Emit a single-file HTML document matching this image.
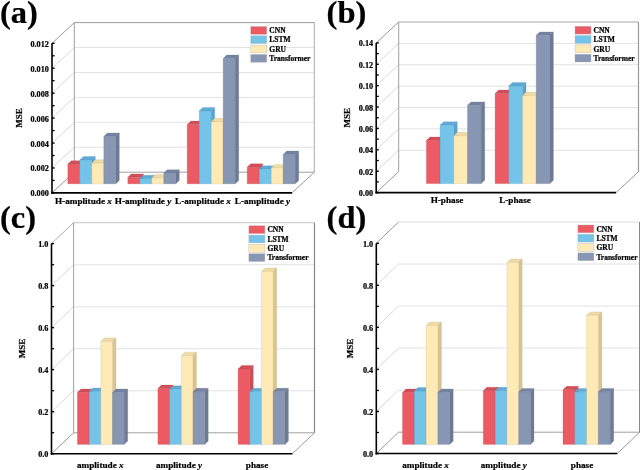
<!DOCTYPE html>
<html><head><meta charset="utf-8"><style>
html,body{margin:0;padding:0;background:#fff;}
svg{display:block;will-change:transform;}
</style></head><body>
<svg width="640" height="470" viewBox="0 0 640 470" font-family='"Liberation Serif", serif' fill="#000">
<style>text{stroke:#000;stroke-width:0.22px;}</style>
<rect width="640" height="470" fill="#fff"/>
<line x1="52.00" y1="167.97" x2="74.30" y2="147.27" stroke="#d4d4d4" stroke-width="0.9"/>
<line x1="74.30" y1="147.27" x2="314.30" y2="147.27" stroke="#e2e2e2" stroke-width="1"/>
<line x1="52.00" y1="143.03" x2="74.30" y2="122.33" stroke="#d4d4d4" stroke-width="0.9"/>
<line x1="74.30" y1="122.33" x2="314.30" y2="122.33" stroke="#e2e2e2" stroke-width="1"/>
<line x1="52.00" y1="118.10" x2="74.30" y2="97.40" stroke="#d4d4d4" stroke-width="0.9"/>
<line x1="74.30" y1="97.40" x2="314.30" y2="97.40" stroke="#e2e2e2" stroke-width="1"/>
<line x1="52.00" y1="93.17" x2="74.30" y2="72.47" stroke="#d4d4d4" stroke-width="0.9"/>
<line x1="74.30" y1="72.47" x2="314.30" y2="72.47" stroke="#e2e2e2" stroke-width="1"/>
<line x1="52.00" y1="68.23" x2="74.30" y2="47.53" stroke="#d4d4d4" stroke-width="0.9"/>
<line x1="74.30" y1="47.53" x2="314.30" y2="47.53" stroke="#e2e2e2" stroke-width="1"/>
<line x1="52.00" y1="43.30" x2="74.30" y2="22.60" stroke="#8c8c8c" stroke-width="0.9"/>
<line x1="74.30" y1="22.60" x2="314.30" y2="22.60" stroke="#9a9a9a" stroke-width="1"/>
<line x1="314.30" y1="22.60" x2="314.30" y2="172.20" stroke="#b8b8b8" stroke-width="1.2"/>
<line x1="74.30" y1="22.60" x2="74.30" y2="172.20" stroke="#a0a0a0" stroke-width="1"/>
<line x1="74.30" y1="172.20" x2="314.30" y2="172.20" stroke="#a0a0a0" stroke-width="1"/>
<line x1="52.00" y1="192.90" x2="74.30" y2="172.20" stroke="#808080" stroke-width="0.8"/>
<line x1="292.00" y1="192.90" x2="314.30" y2="172.20" stroke="#808080" stroke-width="0.8"/>
<polygon points="67.80,164.10 71.30,160.70 83.30,160.70 79.80,164.10" fill="#D04F58" stroke="#b04048" stroke-width="0.4" stroke-opacity="0.55" stroke-linejoin="round"/>
<polygon points="79.80,164.10 83.30,160.70 83.30,180.40 79.80,183.80" fill="#C8525A" stroke="#b04048" stroke-width="0.4" stroke-opacity="0.55" stroke-linejoin="round"/>
<rect x="67.80" y="164.10" width="12.00" height="19.70" fill="#EC5B64" stroke="#b04048" stroke-width="0.4" stroke-opacity="0.55" stroke-linejoin="round"/>
<polygon points="79.80,159.90 83.30,156.50 95.30,156.50 91.80,159.90" fill="#5FABD6" stroke="#4a8fb8" stroke-width="0.4" stroke-opacity="0.55" stroke-linejoin="round"/>
<polygon points="91.80,159.90 95.30,156.50 95.30,180.40 91.80,183.80" fill="#5BA3CC" stroke="#4a8fb8" stroke-width="0.4" stroke-opacity="0.55" stroke-linejoin="round"/>
<rect x="79.80" y="159.90" width="12.00" height="23.90" fill="#74C3E9" stroke="#4a8fb8" stroke-width="0.4" stroke-opacity="0.55" stroke-linejoin="round"/>
<polygon points="91.80,163.10 95.30,159.70 107.30,159.70 103.80,163.10" fill="#EFDBA4" stroke="#b9a878" stroke-width="0.4" stroke-opacity="0.55" stroke-linejoin="round"/>
<polygon points="103.80,163.10 107.30,159.70 107.30,180.40 103.80,183.80" fill="#D8C592" stroke="#b9a878" stroke-width="0.4" stroke-opacity="0.55" stroke-linejoin="round"/>
<rect x="91.80" y="163.10" width="12.00" height="20.70" fill="#FFE9B4" stroke="#b9a878" stroke-width="0.4" stroke-opacity="0.55" stroke-linejoin="round"/>
<polygon points="103.80,136.40 107.30,133.00 119.30,133.00 115.80,136.40" fill="#7582A1" stroke="#5f6a82" stroke-width="0.4" stroke-opacity="0.55" stroke-linejoin="round"/>
<polygon points="115.80,136.40 119.30,133.00 119.30,180.40 115.80,183.80" fill="#6E7B94" stroke="#5f6a82" stroke-width="0.4" stroke-opacity="0.55" stroke-linejoin="round"/>
<rect x="103.80" y="136.40" width="12.00" height="47.40" fill="#8796B2" stroke="#5f6a82" stroke-width="0.4" stroke-opacity="0.55" stroke-linejoin="round"/>
<polygon points="127.80,177.30 131.30,173.90 143.30,173.90 139.80,177.30" fill="#D04F58" stroke="#b04048" stroke-width="0.4" stroke-opacity="0.55" stroke-linejoin="round"/>
<polygon points="139.80,177.30 143.30,173.90 143.30,180.40 139.80,183.80" fill="#C8525A" stroke="#b04048" stroke-width="0.4" stroke-opacity="0.55" stroke-linejoin="round"/>
<rect x="127.80" y="177.30" width="12.00" height="6.50" fill="#EC5B64" stroke="#b04048" stroke-width="0.4" stroke-opacity="0.55" stroke-linejoin="round"/>
<polygon points="139.80,178.70 143.30,175.30 155.30,175.30 151.80,178.70" fill="#5FABD6" stroke="#4a8fb8" stroke-width="0.4" stroke-opacity="0.55" stroke-linejoin="round"/>
<polygon points="151.80,178.70 155.30,175.30 155.30,180.40 151.80,183.80" fill="#5BA3CC" stroke="#4a8fb8" stroke-width="0.4" stroke-opacity="0.55" stroke-linejoin="round"/>
<rect x="139.80" y="178.70" width="12.00" height="5.10" fill="#74C3E9" stroke="#4a8fb8" stroke-width="0.4" stroke-opacity="0.55" stroke-linejoin="round"/>
<polygon points="151.80,177.80 155.30,174.40 167.30,174.40 163.80,177.80" fill="#EFDBA4" stroke="#b9a878" stroke-width="0.4" stroke-opacity="0.55" stroke-linejoin="round"/>
<polygon points="163.80,177.80 167.30,174.40 167.30,180.40 163.80,183.80" fill="#D8C592" stroke="#b9a878" stroke-width="0.4" stroke-opacity="0.55" stroke-linejoin="round"/>
<rect x="151.80" y="177.80" width="12.00" height="6.00" fill="#FFE9B4" stroke="#b9a878" stroke-width="0.4" stroke-opacity="0.55" stroke-linejoin="round"/>
<polygon points="163.80,173.10 167.30,169.70 179.30,169.70 175.80,173.10" fill="#7582A1" stroke="#5f6a82" stroke-width="0.4" stroke-opacity="0.55" stroke-linejoin="round"/>
<polygon points="175.80,173.10 179.30,169.70 179.30,180.40 175.80,183.80" fill="#6E7B94" stroke="#5f6a82" stroke-width="0.4" stroke-opacity="0.55" stroke-linejoin="round"/>
<rect x="163.80" y="173.10" width="12.00" height="10.70" fill="#8796B2" stroke="#5f6a82" stroke-width="0.4" stroke-opacity="0.55" stroke-linejoin="round"/>
<polygon points="187.20,124.50 190.70,121.10 202.70,121.10 199.20,124.50" fill="#D04F58" stroke="#b04048" stroke-width="0.4" stroke-opacity="0.55" stroke-linejoin="round"/>
<polygon points="199.20,124.50 202.70,121.10 202.70,180.40 199.20,183.80" fill="#C8525A" stroke="#b04048" stroke-width="0.4" stroke-opacity="0.55" stroke-linejoin="round"/>
<rect x="187.20" y="124.50" width="12.00" height="59.30" fill="#EC5B64" stroke="#b04048" stroke-width="0.4" stroke-opacity="0.55" stroke-linejoin="round"/>
<polygon points="199.20,110.90 202.70,107.50 214.70,107.50 211.20,110.90" fill="#5FABD6" stroke="#4a8fb8" stroke-width="0.4" stroke-opacity="0.55" stroke-linejoin="round"/>
<polygon points="211.20,110.90 214.70,107.50 214.70,180.40 211.20,183.80" fill="#5BA3CC" stroke="#4a8fb8" stroke-width="0.4" stroke-opacity="0.55" stroke-linejoin="round"/>
<rect x="199.20" y="110.90" width="12.00" height="72.90" fill="#74C3E9" stroke="#4a8fb8" stroke-width="0.4" stroke-opacity="0.55" stroke-linejoin="round"/>
<polygon points="211.20,121.70 214.70,118.30 226.70,118.30 223.20,121.70" fill="#EFDBA4" stroke="#b9a878" stroke-width="0.4" stroke-opacity="0.55" stroke-linejoin="round"/>
<polygon points="223.20,121.70 226.70,118.30 226.70,180.40 223.20,183.80" fill="#D8C592" stroke="#b9a878" stroke-width="0.4" stroke-opacity="0.55" stroke-linejoin="round"/>
<rect x="211.20" y="121.70" width="12.00" height="62.10" fill="#FFE9B4" stroke="#b9a878" stroke-width="0.4" stroke-opacity="0.55" stroke-linejoin="round"/>
<polygon points="223.20,58.50 226.70,55.10 238.70,55.10 235.20,58.50" fill="#7582A1" stroke="#5f6a82" stroke-width="0.4" stroke-opacity="0.55" stroke-linejoin="round"/>
<polygon points="235.20,58.50 238.70,55.10 238.70,180.40 235.20,183.80" fill="#6E7B94" stroke="#5f6a82" stroke-width="0.4" stroke-opacity="0.55" stroke-linejoin="round"/>
<rect x="223.20" y="58.50" width="12.00" height="125.30" fill="#8796B2" stroke="#5f6a82" stroke-width="0.4" stroke-opacity="0.55" stroke-linejoin="round"/>
<polygon points="247.20,167.20 250.70,163.80 262.70,163.80 259.20,167.20" fill="#D04F58" stroke="#b04048" stroke-width="0.4" stroke-opacity="0.55" stroke-linejoin="round"/>
<polygon points="259.20,167.20 262.70,163.80 262.70,180.40 259.20,183.80" fill="#C8525A" stroke="#b04048" stroke-width="0.4" stroke-opacity="0.55" stroke-linejoin="round"/>
<rect x="247.20" y="167.20" width="12.00" height="16.60" fill="#EC5B64" stroke="#b04048" stroke-width="0.4" stroke-opacity="0.55" stroke-linejoin="round"/>
<polygon points="259.20,169.10 262.70,165.70 274.70,165.70 271.20,169.10" fill="#5FABD6" stroke="#4a8fb8" stroke-width="0.4" stroke-opacity="0.55" stroke-linejoin="round"/>
<polygon points="271.20,169.10 274.70,165.70 274.70,180.40 271.20,183.80" fill="#5BA3CC" stroke="#4a8fb8" stroke-width="0.4" stroke-opacity="0.55" stroke-linejoin="round"/>
<rect x="259.20" y="169.10" width="12.00" height="14.70" fill="#74C3E9" stroke="#4a8fb8" stroke-width="0.4" stroke-opacity="0.55" stroke-linejoin="round"/>
<polygon points="271.20,167.80 274.70,164.40 286.70,164.40 283.20,167.80" fill="#EFDBA4" stroke="#b9a878" stroke-width="0.4" stroke-opacity="0.55" stroke-linejoin="round"/>
<polygon points="283.20,167.80 286.70,164.40 286.70,180.40 283.20,183.80" fill="#D8C592" stroke="#b9a878" stroke-width="0.4" stroke-opacity="0.55" stroke-linejoin="round"/>
<rect x="271.20" y="167.80" width="12.00" height="16.00" fill="#FFE9B4" stroke="#b9a878" stroke-width="0.4" stroke-opacity="0.55" stroke-linejoin="round"/>
<polygon points="283.20,154.40 286.70,151.00 298.70,151.00 295.20,154.40" fill="#7582A1" stroke="#5f6a82" stroke-width="0.4" stroke-opacity="0.55" stroke-linejoin="round"/>
<polygon points="295.20,154.40 298.70,151.00 298.70,180.40 295.20,183.80" fill="#6E7B94" stroke="#5f6a82" stroke-width="0.4" stroke-opacity="0.55" stroke-linejoin="round"/>
<rect x="283.20" y="154.40" width="12.00" height="29.40" fill="#8796B2" stroke="#5f6a82" stroke-width="0.4" stroke-opacity="0.55" stroke-linejoin="round"/>
<line x1="52.00" y1="43.30" x2="52.00" y2="193.90" stroke="#000" stroke-width="1.6"/>
<line x1="51.20" y1="192.90" x2="292.00" y2="192.90" stroke="#000" stroke-width="1.6"/>
<line x1="52.00" y1="192.90" x2="54.60" y2="192.90" stroke="#000" stroke-width="1.4"/>
<line x1="52.00" y1="180.43" x2="54.60" y2="180.43" stroke="#000" stroke-width="1.3"/>
<text x="48.90" y="196.40" text-anchor="end" font-size="8.2" font-weight="bold">0.000</text>
<line x1="52.00" y1="167.97" x2="54.60" y2="167.97" stroke="#000" stroke-width="1.4"/>
<line x1="52.00" y1="155.50" x2="54.60" y2="155.50" stroke="#000" stroke-width="1.3"/>
<text x="48.90" y="171.47" text-anchor="end" font-size="8.2" font-weight="bold">0.002</text>
<line x1="52.00" y1="143.03" x2="54.60" y2="143.03" stroke="#000" stroke-width="1.4"/>
<line x1="52.00" y1="130.57" x2="54.60" y2="130.57" stroke="#000" stroke-width="1.3"/>
<text x="48.90" y="146.53" text-anchor="end" font-size="8.2" font-weight="bold">0.004</text>
<line x1="52.00" y1="118.10" x2="54.60" y2="118.10" stroke="#000" stroke-width="1.4"/>
<line x1="52.00" y1="105.63" x2="54.60" y2="105.63" stroke="#000" stroke-width="1.3"/>
<text x="48.90" y="121.60" text-anchor="end" font-size="8.2" font-weight="bold">0.006</text>
<line x1="52.00" y1="93.17" x2="54.60" y2="93.17" stroke="#000" stroke-width="1.4"/>
<line x1="52.00" y1="80.70" x2="54.60" y2="80.70" stroke="#000" stroke-width="1.3"/>
<text x="48.90" y="96.67" text-anchor="end" font-size="8.2" font-weight="bold">0.008</text>
<line x1="52.00" y1="68.23" x2="54.60" y2="68.23" stroke="#000" stroke-width="1.4"/>
<line x1="52.00" y1="55.77" x2="54.60" y2="55.77" stroke="#000" stroke-width="1.3"/>
<text x="48.90" y="71.73" text-anchor="end" font-size="8.2" font-weight="bold">0.010</text>
<line x1="52.00" y1="43.30" x2="54.60" y2="43.30" stroke="#000" stroke-width="1.4"/>
<text x="48.90" y="46.80" text-anchor="end" font-size="8.2" font-weight="bold">0.012</text>
<text x="0" y="0" transform="translate(21.50,118.00) rotate(-90)" text-anchor="middle" font-size="9" font-weight="bold">MSE</text>
<text x="83.40" y="203.60" text-anchor="middle" font-size="9.2" font-weight="bold">H-amplitude <tspan font-style="italic">x</tspan></text>
<text x="143.00" y="203.60" text-anchor="middle" font-size="9.2" font-weight="bold">H-amplitude <tspan font-style="italic">y</tspan></text>
<text x="203.00" y="203.60" text-anchor="middle" font-size="9.2" font-weight="bold">L-amplitude <tspan font-style="italic">x</tspan></text>
<text x="262.50" y="203.60" text-anchor="middle" font-size="9.2" font-weight="bold">L-amplitude <tspan font-style="italic">y</tspan></text>
<rect x="250.30" y="25.70" width="35.00" height="9.3" fill="#fff"/>
<rect x="250.80" y="26.50" width="16" height="7.8" fill="#EC5B64" stroke="#b4b4b4" stroke-width="0.4"/>
<text x="269.30" y="33.10" font-size="7.5" font-weight="bold">CNN</text>
<rect x="250.30" y="35.00" width="38.00" height="9.3" fill="#fff"/>
<rect x="250.80" y="35.80" width="16" height="7.8" fill="#74C3E9" stroke="#b4b4b4" stroke-width="0.4"/>
<text x="269.30" y="42.40" font-size="7.5" font-weight="bold">LSTM</text>
<rect x="250.30" y="44.30" width="35.50" height="9.3" fill="#fff"/>
<rect x="250.80" y="45.10" width="16" height="7.8" fill="#FFE9B4" stroke="#b4b4b4" stroke-width="0.4"/>
<text x="269.30" y="51.70" font-size="7.5" font-weight="bold">GRU</text>
<rect x="250.30" y="53.60" width="59.50" height="9.3" fill="#fff"/>
<rect x="250.80" y="54.40" width="16" height="7.8" fill="#8796B2" stroke="#b4b4b4" stroke-width="0.4"/>
<text x="269.30" y="61.00" font-size="7.5" font-weight="bold">Transformer</text>
<text x="0.00" y="22.60" font-size="32.5" font-weight="bold">(a)</text>
<line x1="376.20" y1="171.21" x2="398.70" y2="150.31" stroke="#d4d4d4" stroke-width="0.9"/>
<line x1="398.70" y1="150.31" x2="638.50" y2="150.31" stroke="#e2e2e2" stroke-width="1"/>
<line x1="376.20" y1="149.83" x2="398.70" y2="128.93" stroke="#d4d4d4" stroke-width="0.9"/>
<line x1="398.70" y1="128.93" x2="638.50" y2="128.93" stroke="#e2e2e2" stroke-width="1"/>
<line x1="376.20" y1="128.44" x2="398.70" y2="107.54" stroke="#d4d4d4" stroke-width="0.9"/>
<line x1="398.70" y1="107.54" x2="638.50" y2="107.54" stroke="#e2e2e2" stroke-width="1"/>
<line x1="376.20" y1="107.06" x2="398.70" y2="86.16" stroke="#d4d4d4" stroke-width="0.9"/>
<line x1="398.70" y1="86.16" x2="638.50" y2="86.16" stroke="#e2e2e2" stroke-width="1"/>
<line x1="376.20" y1="85.67" x2="398.70" y2="64.77" stroke="#d4d4d4" stroke-width="0.9"/>
<line x1="398.70" y1="64.77" x2="638.50" y2="64.77" stroke="#e2e2e2" stroke-width="1"/>
<line x1="376.20" y1="64.29" x2="398.70" y2="43.39" stroke="#d4d4d4" stroke-width="0.9"/>
<line x1="398.70" y1="43.39" x2="638.50" y2="43.39" stroke="#e2e2e2" stroke-width="1"/>
<line x1="376.20" y1="42.90" x2="398.70" y2="22.00" stroke="#8c8c8c" stroke-width="0.9"/>
<line x1="398.70" y1="22.00" x2="638.50" y2="22.00" stroke="#a8a8a8" stroke-width="1"/>
<line x1="638.50" y1="22.00" x2="638.50" y2="171.70" stroke="#999" stroke-width="1.2"/>
<line x1="398.70" y1="22.00" x2="398.70" y2="171.70" stroke="#a0a0a0" stroke-width="1"/>
<line x1="376.20" y1="192.60" x2="398.70" y2="171.70" stroke="#808080" stroke-width="0.8"/>
<line x1="616.00" y1="192.60" x2="638.50" y2="171.70" stroke="#808080" stroke-width="0.8"/>
<polygon points="426.40,140.40 429.90,137.00 443.60,137.00 440.10,140.40" fill="#D04F58" stroke="#b04048" stroke-width="0.4" stroke-opacity="0.55" stroke-linejoin="round"/>
<polygon points="440.10,140.40 443.60,137.00 443.60,180.20 440.10,183.60" fill="#C8525A" stroke="#b04048" stroke-width="0.4" stroke-opacity="0.55" stroke-linejoin="round"/>
<rect x="426.40" y="140.40" width="13.70" height="43.20" fill="#EC5B64" stroke="#b04048" stroke-width="0.4" stroke-opacity="0.55" stroke-linejoin="round"/>
<polygon points="440.10,125.10 443.60,121.70 457.30,121.70 453.80,125.10" fill="#5FABD6" stroke="#4a8fb8" stroke-width="0.4" stroke-opacity="0.55" stroke-linejoin="round"/>
<polygon points="453.80,125.10 457.30,121.70 457.30,180.20 453.80,183.60" fill="#5BA3CC" stroke="#4a8fb8" stroke-width="0.4" stroke-opacity="0.55" stroke-linejoin="round"/>
<rect x="440.10" y="125.10" width="13.70" height="58.50" fill="#74C3E9" stroke="#4a8fb8" stroke-width="0.4" stroke-opacity="0.55" stroke-linejoin="round"/>
<polygon points="453.80,135.70 457.30,132.30 471.00,132.30 467.50,135.70" fill="#EFDBA4" stroke="#b9a878" stroke-width="0.4" stroke-opacity="0.55" stroke-linejoin="round"/>
<polygon points="467.50,135.70 471.00,132.30 471.00,180.20 467.50,183.60" fill="#D8C592" stroke="#b9a878" stroke-width="0.4" stroke-opacity="0.55" stroke-linejoin="round"/>
<rect x="453.80" y="135.70" width="13.70" height="47.90" fill="#FFE9B4" stroke="#b9a878" stroke-width="0.4" stroke-opacity="0.55" stroke-linejoin="round"/>
<polygon points="467.50,105.30 471.00,101.90 484.70,101.90 481.20,105.30" fill="#7582A1" stroke="#5f6a82" stroke-width="0.4" stroke-opacity="0.55" stroke-linejoin="round"/>
<polygon points="481.20,105.30 484.70,101.90 484.70,180.20 481.20,183.60" fill="#6E7B94" stroke="#5f6a82" stroke-width="0.4" stroke-opacity="0.55" stroke-linejoin="round"/>
<rect x="467.50" y="105.30" width="13.70" height="78.30" fill="#8796B2" stroke="#5f6a82" stroke-width="0.4" stroke-opacity="0.55" stroke-linejoin="round"/>
<polygon points="495.10,93.40 498.60,90.00 512.30,90.00 508.80,93.40" fill="#D04F58" stroke="#b04048" stroke-width="0.4" stroke-opacity="0.55" stroke-linejoin="round"/>
<polygon points="508.80,93.40 512.30,90.00 512.30,180.20 508.80,183.60" fill="#C8525A" stroke="#b04048" stroke-width="0.4" stroke-opacity="0.55" stroke-linejoin="round"/>
<rect x="495.10" y="93.40" width="13.70" height="90.20" fill="#EC5B64" stroke="#b04048" stroke-width="0.4" stroke-opacity="0.55" stroke-linejoin="round"/>
<polygon points="508.80,86.00 512.30,82.60 526.00,82.60 522.50,86.00" fill="#5FABD6" stroke="#4a8fb8" stroke-width="0.4" stroke-opacity="0.55" stroke-linejoin="round"/>
<polygon points="522.50,86.00 526.00,82.60 526.00,180.20 522.50,183.60" fill="#5BA3CC" stroke="#4a8fb8" stroke-width="0.4" stroke-opacity="0.55" stroke-linejoin="round"/>
<rect x="508.80" y="86.00" width="13.70" height="97.60" fill="#74C3E9" stroke="#4a8fb8" stroke-width="0.4" stroke-opacity="0.55" stroke-linejoin="round"/>
<polygon points="522.50,95.50 526.00,92.10 539.70,92.10 536.20,95.50" fill="#EFDBA4" stroke="#b9a878" stroke-width="0.4" stroke-opacity="0.55" stroke-linejoin="round"/>
<polygon points="536.20,95.50 539.70,92.10 539.70,180.20 536.20,183.60" fill="#D8C592" stroke="#b9a878" stroke-width="0.4" stroke-opacity="0.55" stroke-linejoin="round"/>
<rect x="522.50" y="95.50" width="13.70" height="88.10" fill="#FFE9B4" stroke="#b9a878" stroke-width="0.4" stroke-opacity="0.55" stroke-linejoin="round"/>
<polygon points="536.20,35.30 539.70,31.90 553.40,31.90 549.90,35.30" fill="#7582A1" stroke="#5f6a82" stroke-width="0.4" stroke-opacity="0.55" stroke-linejoin="round"/>
<polygon points="549.90,35.30 553.40,31.90 553.40,180.20 549.90,183.60" fill="#6E7B94" stroke="#5f6a82" stroke-width="0.4" stroke-opacity="0.55" stroke-linejoin="round"/>
<rect x="536.20" y="35.30" width="13.70" height="148.30" fill="#8796B2" stroke="#5f6a82" stroke-width="0.4" stroke-opacity="0.55" stroke-linejoin="round"/>
<line x1="376.20" y1="42.90" x2="376.20" y2="193.60" stroke="#000" stroke-width="1.6"/>
<line x1="375.40" y1="192.60" x2="616.00" y2="192.60" stroke="#000" stroke-width="1.6"/>
<line x1="376.20" y1="192.60" x2="378.80" y2="192.60" stroke="#000" stroke-width="1.4"/>
<line x1="376.20" y1="181.91" x2="378.80" y2="181.91" stroke="#000" stroke-width="1.3"/>
<text x="373.10" y="196.10" text-anchor="end" font-size="8.2" font-weight="bold">0.00</text>
<line x1="376.20" y1="171.21" x2="378.80" y2="171.21" stroke="#000" stroke-width="1.4"/>
<line x1="376.20" y1="160.52" x2="378.80" y2="160.52" stroke="#000" stroke-width="1.3"/>
<text x="373.10" y="174.71" text-anchor="end" font-size="8.2" font-weight="bold">0.02</text>
<line x1="376.20" y1="149.83" x2="378.80" y2="149.83" stroke="#000" stroke-width="1.4"/>
<line x1="376.20" y1="139.14" x2="378.80" y2="139.14" stroke="#000" stroke-width="1.3"/>
<text x="373.10" y="153.33" text-anchor="end" font-size="8.2" font-weight="bold">0.04</text>
<line x1="376.20" y1="128.44" x2="378.80" y2="128.44" stroke="#000" stroke-width="1.4"/>
<line x1="376.20" y1="117.75" x2="378.80" y2="117.75" stroke="#000" stroke-width="1.3"/>
<text x="373.10" y="131.94" text-anchor="end" font-size="8.2" font-weight="bold">0.06</text>
<line x1="376.20" y1="107.06" x2="378.80" y2="107.06" stroke="#000" stroke-width="1.4"/>
<line x1="376.20" y1="96.36" x2="378.80" y2="96.36" stroke="#000" stroke-width="1.3"/>
<text x="373.10" y="110.56" text-anchor="end" font-size="8.2" font-weight="bold">0.08</text>
<line x1="376.20" y1="85.67" x2="378.80" y2="85.67" stroke="#000" stroke-width="1.4"/>
<line x1="376.20" y1="74.98" x2="378.80" y2="74.98" stroke="#000" stroke-width="1.3"/>
<text x="373.10" y="89.17" text-anchor="end" font-size="8.2" font-weight="bold">0.10</text>
<line x1="376.20" y1="64.29" x2="378.80" y2="64.29" stroke="#000" stroke-width="1.4"/>
<line x1="376.20" y1="53.59" x2="378.80" y2="53.59" stroke="#000" stroke-width="1.3"/>
<text x="373.10" y="67.79" text-anchor="end" font-size="8.2" font-weight="bold">0.12</text>
<line x1="376.20" y1="42.90" x2="378.80" y2="42.90" stroke="#000" stroke-width="1.4"/>
<text x="373.10" y="46.40" text-anchor="end" font-size="8.2" font-weight="bold">0.14</text>
<text x="0" y="0" transform="translate(350.00,117.70) rotate(-90)" text-anchor="middle" font-size="9" font-weight="bold">MSE</text>
<text x="447.00" y="203.30" text-anchor="middle" font-size="9.2" font-weight="bold">H-phase</text>
<text x="515.00" y="203.30" text-anchor="middle" font-size="9.2" font-weight="bold">L-phase</text>
<rect x="574.50" y="25.50" width="35.00" height="9.3" fill="#fff"/>
<rect x="575.00" y="26.30" width="16" height="7.8" fill="#EC5B64" stroke="#b4b4b4" stroke-width="0.4"/>
<text x="593.50" y="32.90" font-size="7.5" font-weight="bold">CNN</text>
<rect x="574.50" y="34.80" width="38.00" height="9.3" fill="#fff"/>
<rect x="575.00" y="35.60" width="16" height="7.8" fill="#74C3E9" stroke="#b4b4b4" stroke-width="0.4"/>
<text x="593.50" y="42.20" font-size="7.5" font-weight="bold">LSTM</text>
<rect x="574.50" y="44.10" width="35.50" height="9.3" fill="#fff"/>
<rect x="575.00" y="44.90" width="16" height="7.8" fill="#FFE9B4" stroke="#b4b4b4" stroke-width="0.4"/>
<text x="593.50" y="51.50" font-size="7.5" font-weight="bold">GRU</text>
<rect x="574.50" y="53.40" width="59.50" height="9.3" fill="#fff"/>
<rect x="575.00" y="54.20" width="16" height="7.8" fill="#8796B2" stroke="#b4b4b4" stroke-width="0.4"/>
<text x="593.50" y="60.80" font-size="7.5" font-weight="bold">Transformer</text>
<text x="326.60" y="22.60" font-size="32.5" font-weight="bold">(b)</text>
<line x1="51.50" y1="411.68" x2="73.60" y2="390.78" stroke="#d4d4d4" stroke-width="0.9"/>
<line x1="73.60" y1="390.78" x2="314.50" y2="390.78" stroke="#e2e2e2" stroke-width="1"/>
<line x1="51.50" y1="369.66" x2="73.60" y2="348.76" stroke="#d4d4d4" stroke-width="0.9"/>
<line x1="73.60" y1="348.76" x2="314.50" y2="348.76" stroke="#e2e2e2" stroke-width="1"/>
<line x1="51.50" y1="327.64" x2="73.60" y2="306.74" stroke="#d4d4d4" stroke-width="0.9"/>
<line x1="73.60" y1="306.74" x2="314.50" y2="306.74" stroke="#e2e2e2" stroke-width="1"/>
<line x1="51.50" y1="285.62" x2="73.60" y2="264.72" stroke="#d4d4d4" stroke-width="0.9"/>
<line x1="73.60" y1="264.72" x2="314.50" y2="264.72" stroke="#e2e2e2" stroke-width="1"/>
<line x1="51.50" y1="243.60" x2="73.60" y2="222.70" stroke="#a0a0a0" stroke-width="0.9"/>
<line x1="73.60" y1="222.70" x2="314.50" y2="222.70" stroke="#c4c4c4" stroke-width="1"/>
<line x1="314.50" y1="222.70" x2="314.50" y2="432.80" stroke="#888" stroke-width="1.2"/>
<line x1="73.60" y1="222.70" x2="73.60" y2="432.80" stroke="#a0a0a0" stroke-width="1"/>
<line x1="73.60" y1="432.80" x2="314.50" y2="432.80" stroke="#a0a0a0" stroke-width="1"/>
<line x1="51.50" y1="453.70" x2="73.60" y2="432.80" stroke="#808080" stroke-width="0.8"/>
<line x1="292.40" y1="453.70" x2="314.50" y2="432.80" stroke="#808080" stroke-width="0.8"/>
<polygon points="77.40,392.40 80.90,389.00 92.60,389.00 89.10,392.40" fill="#D04F58" stroke="#b04048" stroke-width="0.4" stroke-opacity="0.55" stroke-linejoin="round"/>
<polygon points="89.10,392.40 92.60,389.00 92.60,441.00 89.10,444.40" fill="#C8525A" stroke="#b04048" stroke-width="0.4" stroke-opacity="0.55" stroke-linejoin="round"/>
<rect x="77.40" y="392.40" width="11.70" height="52.00" fill="#EC5B64" stroke="#b04048" stroke-width="0.4" stroke-opacity="0.55" stroke-linejoin="round"/>
<polygon points="89.10,391.50 92.60,388.10 104.30,388.10 100.80,391.50" fill="#5FABD6" stroke="#4a8fb8" stroke-width="0.4" stroke-opacity="0.55" stroke-linejoin="round"/>
<polygon points="100.80,391.50 104.30,388.10 104.30,441.00 100.80,444.40" fill="#5BA3CC" stroke="#4a8fb8" stroke-width="0.4" stroke-opacity="0.55" stroke-linejoin="round"/>
<rect x="89.10" y="391.50" width="11.70" height="52.90" fill="#74C3E9" stroke="#4a8fb8" stroke-width="0.4" stroke-opacity="0.55" stroke-linejoin="round"/>
<polygon points="100.80,341.30 104.30,337.90 116.00,337.90 112.50,341.30" fill="#EFDBA4" stroke="#b9a878" stroke-width="0.4" stroke-opacity="0.55" stroke-linejoin="round"/>
<polygon points="112.50,341.30 116.00,337.90 116.00,441.00 112.50,444.40" fill="#D8C592" stroke="#b9a878" stroke-width="0.4" stroke-opacity="0.55" stroke-linejoin="round"/>
<rect x="100.80" y="341.30" width="11.70" height="103.10" fill="#FFE9B4" stroke="#b9a878" stroke-width="0.4" stroke-opacity="0.55" stroke-linejoin="round"/>
<polygon points="112.50,392.40 116.00,389.00 127.70,389.00 124.20,392.40" fill="#7582A1" stroke="#5f6a82" stroke-width="0.4" stroke-opacity="0.55" stroke-linejoin="round"/>
<polygon points="124.20,392.40 127.70,389.00 127.70,441.00 124.20,444.40" fill="#6E7B94" stroke="#5f6a82" stroke-width="0.4" stroke-opacity="0.55" stroke-linejoin="round"/>
<rect x="112.50" y="392.40" width="11.70" height="52.00" fill="#8796B2" stroke="#5f6a82" stroke-width="0.4" stroke-opacity="0.55" stroke-linejoin="round"/>
<polygon points="157.90,388.50 161.40,385.10 173.10,385.10 169.60,388.50" fill="#D04F58" stroke="#b04048" stroke-width="0.4" stroke-opacity="0.55" stroke-linejoin="round"/>
<polygon points="169.60,388.50 173.10,385.10 173.10,441.00 169.60,444.40" fill="#C8525A" stroke="#b04048" stroke-width="0.4" stroke-opacity="0.55" stroke-linejoin="round"/>
<rect x="157.90" y="388.50" width="11.70" height="55.90" fill="#EC5B64" stroke="#b04048" stroke-width="0.4" stroke-opacity="0.55" stroke-linejoin="round"/>
<polygon points="169.60,389.20 173.10,385.80 184.80,385.80 181.30,389.20" fill="#5FABD6" stroke="#4a8fb8" stroke-width="0.4" stroke-opacity="0.55" stroke-linejoin="round"/>
<polygon points="181.30,389.20 184.80,385.80 184.80,441.00 181.30,444.40" fill="#5BA3CC" stroke="#4a8fb8" stroke-width="0.4" stroke-opacity="0.55" stroke-linejoin="round"/>
<rect x="169.60" y="389.20" width="11.70" height="55.20" fill="#74C3E9" stroke="#4a8fb8" stroke-width="0.4" stroke-opacity="0.55" stroke-linejoin="round"/>
<polygon points="181.30,355.60 184.80,352.20 196.50,352.20 193.00,355.60" fill="#EFDBA4" stroke="#b9a878" stroke-width="0.4" stroke-opacity="0.55" stroke-linejoin="round"/>
<polygon points="193.00,355.60 196.50,352.20 196.50,441.00 193.00,444.40" fill="#D8C592" stroke="#b9a878" stroke-width="0.4" stroke-opacity="0.55" stroke-linejoin="round"/>
<rect x="181.30" y="355.60" width="11.70" height="88.80" fill="#FFE9B4" stroke="#b9a878" stroke-width="0.4" stroke-opacity="0.55" stroke-linejoin="round"/>
<polygon points="193.00,391.70 196.50,388.30 208.20,388.30 204.70,391.70" fill="#7582A1" stroke="#5f6a82" stroke-width="0.4" stroke-opacity="0.55" stroke-linejoin="round"/>
<polygon points="204.70,391.70 208.20,388.30 208.20,441.00 204.70,444.40" fill="#6E7B94" stroke="#5f6a82" stroke-width="0.4" stroke-opacity="0.55" stroke-linejoin="round"/>
<rect x="193.00" y="391.70" width="11.70" height="52.70" fill="#8796B2" stroke="#5f6a82" stroke-width="0.4" stroke-opacity="0.55" stroke-linejoin="round"/>
<polygon points="238.10,368.90 241.60,365.50 253.30,365.50 249.80,368.90" fill="#D04F58" stroke="#b04048" stroke-width="0.4" stroke-opacity="0.55" stroke-linejoin="round"/>
<polygon points="249.80,368.90 253.30,365.50 253.30,441.00 249.80,444.40" fill="#C8525A" stroke="#b04048" stroke-width="0.4" stroke-opacity="0.55" stroke-linejoin="round"/>
<rect x="238.10" y="368.90" width="11.70" height="75.50" fill="#EC5B64" stroke="#b04048" stroke-width="0.4" stroke-opacity="0.55" stroke-linejoin="round"/>
<polygon points="249.80,391.60 253.30,388.20 265.00,388.20 261.50,391.60" fill="#5FABD6" stroke="#4a8fb8" stroke-width="0.4" stroke-opacity="0.55" stroke-linejoin="round"/>
<polygon points="261.50,391.60 265.00,388.20 265.00,441.00 261.50,444.40" fill="#5BA3CC" stroke="#4a8fb8" stroke-width="0.4" stroke-opacity="0.55" stroke-linejoin="round"/>
<rect x="249.80" y="391.60" width="11.70" height="52.80" fill="#74C3E9" stroke="#4a8fb8" stroke-width="0.4" stroke-opacity="0.55" stroke-linejoin="round"/>
<polygon points="261.50,271.40 265.00,268.00 276.70,268.00 273.20,271.40" fill="#EFDBA4" stroke="#b9a878" stroke-width="0.4" stroke-opacity="0.55" stroke-linejoin="round"/>
<polygon points="273.20,271.40 276.70,268.00 276.70,441.00 273.20,444.40" fill="#D8C592" stroke="#b9a878" stroke-width="0.4" stroke-opacity="0.55" stroke-linejoin="round"/>
<rect x="261.50" y="271.40" width="11.70" height="173.00" fill="#FFE9B4" stroke="#b9a878" stroke-width="0.4" stroke-opacity="0.55" stroke-linejoin="round"/>
<polygon points="273.20,391.60 276.70,388.20 288.40,388.20 284.90,391.60" fill="#7582A1" stroke="#5f6a82" stroke-width="0.4" stroke-opacity="0.55" stroke-linejoin="round"/>
<polygon points="284.90,391.60 288.40,388.20 288.40,441.00 284.90,444.40" fill="#6E7B94" stroke="#5f6a82" stroke-width="0.4" stroke-opacity="0.55" stroke-linejoin="round"/>
<rect x="273.20" y="391.60" width="11.70" height="52.80" fill="#8796B2" stroke="#5f6a82" stroke-width="0.4" stroke-opacity="0.55" stroke-linejoin="round"/>
<line x1="51.50" y1="243.60" x2="51.50" y2="454.70" stroke="#000" stroke-width="1.6"/>
<line x1="50.70" y1="453.70" x2="292.40" y2="453.70" stroke="#000" stroke-width="1.6"/>
<line x1="51.50" y1="453.70" x2="54.10" y2="453.70" stroke="#000" stroke-width="1.4"/>
<line x1="51.50" y1="432.69" x2="54.10" y2="432.69" stroke="#000" stroke-width="1.3"/>
<text x="48.40" y="457.20" text-anchor="end" font-size="8.2" font-weight="bold">0.0</text>
<line x1="51.50" y1="411.68" x2="54.10" y2="411.68" stroke="#000" stroke-width="1.4"/>
<line x1="51.50" y1="390.67" x2="54.10" y2="390.67" stroke="#000" stroke-width="1.3"/>
<text x="48.40" y="415.18" text-anchor="end" font-size="8.2" font-weight="bold">0.2</text>
<line x1="51.50" y1="369.66" x2="54.10" y2="369.66" stroke="#000" stroke-width="1.4"/>
<line x1="51.50" y1="348.65" x2="54.10" y2="348.65" stroke="#000" stroke-width="1.3"/>
<text x="48.40" y="373.16" text-anchor="end" font-size="8.2" font-weight="bold">0.4</text>
<line x1="51.50" y1="327.64" x2="54.10" y2="327.64" stroke="#000" stroke-width="1.4"/>
<line x1="51.50" y1="306.63" x2="54.10" y2="306.63" stroke="#000" stroke-width="1.3"/>
<text x="48.40" y="331.14" text-anchor="end" font-size="8.2" font-weight="bold">0.6</text>
<line x1="51.50" y1="285.62" x2="54.10" y2="285.62" stroke="#000" stroke-width="1.4"/>
<line x1="51.50" y1="264.61" x2="54.10" y2="264.61" stroke="#000" stroke-width="1.3"/>
<text x="48.40" y="289.12" text-anchor="end" font-size="8.2" font-weight="bold">0.8</text>
<line x1="51.50" y1="243.60" x2="54.10" y2="243.60" stroke="#000" stroke-width="1.4"/>
<text x="48.40" y="247.10" text-anchor="end" font-size="8.2" font-weight="bold">1.0</text>
<text x="0" y="0" transform="translate(25.20,348.40) rotate(-90)" text-anchor="middle" font-size="9" font-weight="bold">MSE</text>
<text x="100.30" y="467.60" text-anchor="middle" font-size="9.2" font-weight="bold">amplitude <tspan font-style="italic">x</tspan></text>
<text x="179.00" y="467.60" text-anchor="middle" font-size="9.2" font-weight="bold">amplitude <tspan font-style="italic">y</tspan></text>
<text x="257.00" y="467.60" text-anchor="middle" font-size="9.2" font-weight="bold">phase</text>
<rect x="248.40" y="225.00" width="35.00" height="9.3" fill="#fff"/>
<rect x="248.90" y="225.80" width="16" height="7.8" fill="#EC5B64" stroke="#b4b4b4" stroke-width="0.4"/>
<text x="267.40" y="232.40" font-size="7.5" font-weight="bold">CNN</text>
<rect x="248.40" y="234.30" width="38.00" height="9.3" fill="#fff"/>
<rect x="248.90" y="235.10" width="16" height="7.8" fill="#74C3E9" stroke="#b4b4b4" stroke-width="0.4"/>
<text x="267.40" y="241.70" font-size="7.5" font-weight="bold">LSTM</text>
<rect x="248.40" y="243.60" width="35.50" height="9.3" fill="#fff"/>
<rect x="248.90" y="244.40" width="16" height="7.8" fill="#FFE9B4" stroke="#b4b4b4" stroke-width="0.4"/>
<text x="267.40" y="251.00" font-size="7.5" font-weight="bold">GRU</text>
<rect x="248.40" y="252.90" width="59.50" height="9.3" fill="#fff"/>
<rect x="248.90" y="253.70" width="16" height="7.8" fill="#8796B2" stroke="#b4b4b4" stroke-width="0.4"/>
<text x="267.40" y="260.30" font-size="7.5" font-weight="bold">Transformer</text>
<text x="0.00" y="228.30" font-size="32.5" font-weight="bold">(c)</text>
<line x1="376.30" y1="411.46" x2="398.50" y2="390.16" stroke="#d4d4d4" stroke-width="0.9"/>
<line x1="398.50" y1="390.16" x2="639.60" y2="390.16" stroke="#e2e2e2" stroke-width="1"/>
<line x1="376.30" y1="369.42" x2="398.50" y2="348.12" stroke="#d4d4d4" stroke-width="0.9"/>
<line x1="398.50" y1="348.12" x2="639.60" y2="348.12" stroke="#e2e2e2" stroke-width="1"/>
<line x1="376.30" y1="327.38" x2="398.50" y2="306.08" stroke="#d4d4d4" stroke-width="0.9"/>
<line x1="398.50" y1="306.08" x2="639.60" y2="306.08" stroke="#e2e2e2" stroke-width="1"/>
<line x1="376.30" y1="285.34" x2="398.50" y2="264.04" stroke="#d4d4d4" stroke-width="0.9"/>
<line x1="398.50" y1="264.04" x2="639.60" y2="264.04" stroke="#e2e2e2" stroke-width="1"/>
<line x1="376.30" y1="243.30" x2="398.50" y2="222.00" stroke="#8c8c8c" stroke-width="0.9"/>
<line x1="398.50" y1="222.00" x2="639.60" y2="222.00" stroke="#dcdcdc" stroke-width="1"/>
<line x1="639.60" y1="222.00" x2="639.60" y2="432.20" stroke="#888" stroke-width="1.2"/>
<line x1="398.50" y1="432.20" x2="639.60" y2="432.20" stroke="#a0a0a0" stroke-width="1"/>
<line x1="376.30" y1="453.50" x2="398.50" y2="432.20" stroke="#808080" stroke-width="0.8"/>
<line x1="617.40" y1="453.50" x2="639.60" y2="432.20" stroke="#808080" stroke-width="0.8"/>
<polygon points="402.50,392.40 406.00,389.00 417.80,389.00 414.30,392.40" fill="#D04F58" stroke="#b04048" stroke-width="0.4" stroke-opacity="0.55" stroke-linejoin="round"/>
<polygon points="414.30,392.40 417.80,389.00 417.80,441.00 414.30,444.40" fill="#C8525A" stroke="#b04048" stroke-width="0.4" stroke-opacity="0.55" stroke-linejoin="round"/>
<rect x="402.50" y="392.40" width="11.80" height="52.00" fill="#EC5B64" stroke="#b04048" stroke-width="0.4" stroke-opacity="0.55" stroke-linejoin="round"/>
<polygon points="414.30,391.00 417.80,387.60 429.60,387.60 426.10,391.00" fill="#5FABD6" stroke="#4a8fb8" stroke-width="0.4" stroke-opacity="0.55" stroke-linejoin="round"/>
<polygon points="426.10,391.00 429.60,387.60 429.60,441.00 426.10,444.40" fill="#5BA3CC" stroke="#4a8fb8" stroke-width="0.4" stroke-opacity="0.55" stroke-linejoin="round"/>
<rect x="414.30" y="391.00" width="11.80" height="53.40" fill="#74C3E9" stroke="#4a8fb8" stroke-width="0.4" stroke-opacity="0.55" stroke-linejoin="round"/>
<polygon points="426.10,325.50 429.60,322.10 441.40,322.10 437.90,325.50" fill="#EFDBA4" stroke="#b9a878" stroke-width="0.4" stroke-opacity="0.55" stroke-linejoin="round"/>
<polygon points="437.90,325.50 441.40,322.10 441.40,441.00 437.90,444.40" fill="#D8C592" stroke="#b9a878" stroke-width="0.4" stroke-opacity="0.55" stroke-linejoin="round"/>
<rect x="426.10" y="325.50" width="11.80" height="118.90" fill="#FFE9B4" stroke="#b9a878" stroke-width="0.4" stroke-opacity="0.55" stroke-linejoin="round"/>
<polygon points="437.90,392.40 441.40,389.00 453.20,389.00 449.70,392.40" fill="#7582A1" stroke="#5f6a82" stroke-width="0.4" stroke-opacity="0.55" stroke-linejoin="round"/>
<polygon points="449.70,392.40 453.20,389.00 453.20,441.00 449.70,444.40" fill="#6E7B94" stroke="#5f6a82" stroke-width="0.4" stroke-opacity="0.55" stroke-linejoin="round"/>
<rect x="437.90" y="392.40" width="11.80" height="52.00" fill="#8796B2" stroke="#5f6a82" stroke-width="0.4" stroke-opacity="0.55" stroke-linejoin="round"/>
<polygon points="483.30,390.70 486.80,387.30 498.60,387.30 495.10,390.70" fill="#D04F58" stroke="#b04048" stroke-width="0.4" stroke-opacity="0.55" stroke-linejoin="round"/>
<polygon points="495.10,390.70 498.60,387.30 498.60,441.00 495.10,444.40" fill="#C8525A" stroke="#b04048" stroke-width="0.4" stroke-opacity="0.55" stroke-linejoin="round"/>
<rect x="483.30" y="390.70" width="11.80" height="53.70" fill="#EC5B64" stroke="#b04048" stroke-width="0.4" stroke-opacity="0.55" stroke-linejoin="round"/>
<polygon points="495.10,390.70 498.60,387.30 510.40,387.30 506.90,390.70" fill="#5FABD6" stroke="#4a8fb8" stroke-width="0.4" stroke-opacity="0.55" stroke-linejoin="round"/>
<polygon points="506.90,390.70 510.40,387.30 510.40,441.00 506.90,444.40" fill="#5BA3CC" stroke="#4a8fb8" stroke-width="0.4" stroke-opacity="0.55" stroke-linejoin="round"/>
<rect x="495.10" y="390.70" width="11.80" height="53.70" fill="#74C3E9" stroke="#4a8fb8" stroke-width="0.4" stroke-opacity="0.55" stroke-linejoin="round"/>
<polygon points="506.90,262.40 510.40,259.00 522.20,259.00 518.70,262.40" fill="#EFDBA4" stroke="#b9a878" stroke-width="0.4" stroke-opacity="0.55" stroke-linejoin="round"/>
<polygon points="518.70,262.40 522.20,259.00 522.20,441.00 518.70,444.40" fill="#D8C592" stroke="#b9a878" stroke-width="0.4" stroke-opacity="0.55" stroke-linejoin="round"/>
<rect x="506.90" y="262.40" width="11.80" height="182.00" fill="#FFE9B4" stroke="#b9a878" stroke-width="0.4" stroke-opacity="0.55" stroke-linejoin="round"/>
<polygon points="518.70,391.80 522.20,388.40 534.00,388.40 530.50,391.80" fill="#7582A1" stroke="#5f6a82" stroke-width="0.4" stroke-opacity="0.55" stroke-linejoin="round"/>
<polygon points="530.50,391.80 534.00,388.40 534.00,441.00 530.50,444.40" fill="#6E7B94" stroke="#5f6a82" stroke-width="0.4" stroke-opacity="0.55" stroke-linejoin="round"/>
<rect x="518.70" y="391.80" width="11.80" height="52.60" fill="#8796B2" stroke="#5f6a82" stroke-width="0.4" stroke-opacity="0.55" stroke-linejoin="round"/>
<polygon points="563.00,389.70 566.50,386.30 578.30,386.30 574.80,389.70" fill="#D04F58" stroke="#b04048" stroke-width="0.4" stroke-opacity="0.55" stroke-linejoin="round"/>
<polygon points="574.80,389.70 578.30,386.30 578.30,441.00 574.80,444.40" fill="#C8525A" stroke="#b04048" stroke-width="0.4" stroke-opacity="0.55" stroke-linejoin="round"/>
<rect x="563.00" y="389.70" width="11.80" height="54.70" fill="#EC5B64" stroke="#b04048" stroke-width="0.4" stroke-opacity="0.55" stroke-linejoin="round"/>
<polygon points="574.80,391.80 578.30,388.40 590.10,388.40 586.60,391.80" fill="#5FABD6" stroke="#4a8fb8" stroke-width="0.4" stroke-opacity="0.55" stroke-linejoin="round"/>
<polygon points="586.60,391.80 590.10,388.40 590.10,441.00 586.60,444.40" fill="#5BA3CC" stroke="#4a8fb8" stroke-width="0.4" stroke-opacity="0.55" stroke-linejoin="round"/>
<rect x="574.80" y="391.80" width="11.80" height="52.60" fill="#74C3E9" stroke="#4a8fb8" stroke-width="0.4" stroke-opacity="0.55" stroke-linejoin="round"/>
<polygon points="586.60,315.30 590.10,311.90 601.90,311.90 598.40,315.30" fill="#EFDBA4" stroke="#b9a878" stroke-width="0.4" stroke-opacity="0.55" stroke-linejoin="round"/>
<polygon points="598.40,315.30 601.90,311.90 601.90,441.00 598.40,444.40" fill="#D8C592" stroke="#b9a878" stroke-width="0.4" stroke-opacity="0.55" stroke-linejoin="round"/>
<rect x="586.60" y="315.30" width="11.80" height="129.10" fill="#FFE9B4" stroke="#b9a878" stroke-width="0.4" stroke-opacity="0.55" stroke-linejoin="round"/>
<polygon points="598.40,391.80 601.90,388.40 613.70,388.40 610.20,391.80" fill="#7582A1" stroke="#5f6a82" stroke-width="0.4" stroke-opacity="0.55" stroke-linejoin="round"/>
<polygon points="610.20,391.80 613.70,388.40 613.70,441.00 610.20,444.40" fill="#6E7B94" stroke="#5f6a82" stroke-width="0.4" stroke-opacity="0.55" stroke-linejoin="round"/>
<rect x="598.40" y="391.80" width="11.80" height="52.60" fill="#8796B2" stroke="#5f6a82" stroke-width="0.4" stroke-opacity="0.55" stroke-linejoin="round"/>
<line x1="376.30" y1="243.30" x2="376.30" y2="454.50" stroke="#000" stroke-width="1.6"/>
<line x1="375.50" y1="453.50" x2="617.40" y2="453.50" stroke="#000" stroke-width="1.6"/>
<line x1="376.30" y1="453.50" x2="378.90" y2="453.50" stroke="#000" stroke-width="1.4"/>
<line x1="376.30" y1="432.48" x2="378.90" y2="432.48" stroke="#000" stroke-width="1.3"/>
<text x="373.20" y="457.00" text-anchor="end" font-size="8.2" font-weight="bold">0.0</text>
<line x1="376.30" y1="411.46" x2="378.90" y2="411.46" stroke="#000" stroke-width="1.4"/>
<line x1="376.30" y1="390.44" x2="378.90" y2="390.44" stroke="#000" stroke-width="1.3"/>
<text x="373.20" y="414.96" text-anchor="end" font-size="8.2" font-weight="bold">0.2</text>
<line x1="376.30" y1="369.42" x2="378.90" y2="369.42" stroke="#000" stroke-width="1.4"/>
<line x1="376.30" y1="348.40" x2="378.90" y2="348.40" stroke="#000" stroke-width="1.3"/>
<text x="373.20" y="372.92" text-anchor="end" font-size="8.2" font-weight="bold">0.4</text>
<line x1="376.30" y1="327.38" x2="378.90" y2="327.38" stroke="#000" stroke-width="1.4"/>
<line x1="376.30" y1="306.36" x2="378.90" y2="306.36" stroke="#000" stroke-width="1.3"/>
<text x="373.20" y="330.88" text-anchor="end" font-size="8.2" font-weight="bold">0.6</text>
<line x1="376.30" y1="285.34" x2="378.90" y2="285.34" stroke="#000" stroke-width="1.4"/>
<line x1="376.30" y1="264.32" x2="378.90" y2="264.32" stroke="#000" stroke-width="1.3"/>
<text x="373.20" y="288.84" text-anchor="end" font-size="8.2" font-weight="bold">0.8</text>
<line x1="376.30" y1="243.30" x2="378.90" y2="243.30" stroke="#000" stroke-width="1.4"/>
<text x="373.20" y="246.80" text-anchor="end" font-size="8.2" font-weight="bold">1.0</text>
<text x="0" y="0" transform="translate(353.30,348.40) rotate(-90)" text-anchor="middle" font-size="9" font-weight="bold">MSE</text>
<text x="425.50" y="467.60" text-anchor="middle" font-size="9.2" font-weight="bold">amplitude <tspan font-style="italic">x</tspan></text>
<text x="503.80" y="467.60" text-anchor="middle" font-size="9.2" font-weight="bold">amplitude <tspan font-style="italic">y</tspan></text>
<text x="582.00" y="467.60" text-anchor="middle" font-size="9.2" font-weight="bold">phase</text>
<rect x="577.40" y="224.20" width="35.00" height="9.3" fill="#fff"/>
<rect x="577.90" y="225.00" width="16" height="7.8" fill="#EC5B64" stroke="#b4b4b4" stroke-width="0.4"/>
<text x="596.40" y="231.60" font-size="7.5" font-weight="bold">CNN</text>
<rect x="577.40" y="233.50" width="38.00" height="9.3" fill="#fff"/>
<rect x="577.90" y="234.30" width="16" height="7.8" fill="#74C3E9" stroke="#b4b4b4" stroke-width="0.4"/>
<text x="596.40" y="240.90" font-size="7.5" font-weight="bold">LSTM</text>
<rect x="577.40" y="242.80" width="35.50" height="9.3" fill="#fff"/>
<rect x="577.90" y="243.60" width="16" height="7.8" fill="#FFE9B4" stroke="#b4b4b4" stroke-width="0.4"/>
<text x="596.40" y="250.20" font-size="7.5" font-weight="bold">GRU</text>
<rect x="577.40" y="252.10" width="59.50" height="9.3" fill="#fff"/>
<rect x="577.90" y="252.90" width="16" height="7.8" fill="#8796B2" stroke="#b4b4b4" stroke-width="0.4"/>
<text x="596.40" y="259.50" font-size="7.5" font-weight="bold">Transformer</text>
<text x="326.60" y="228.30" font-size="32.5" font-weight="bold">(d)</text>
</svg></body></html>
